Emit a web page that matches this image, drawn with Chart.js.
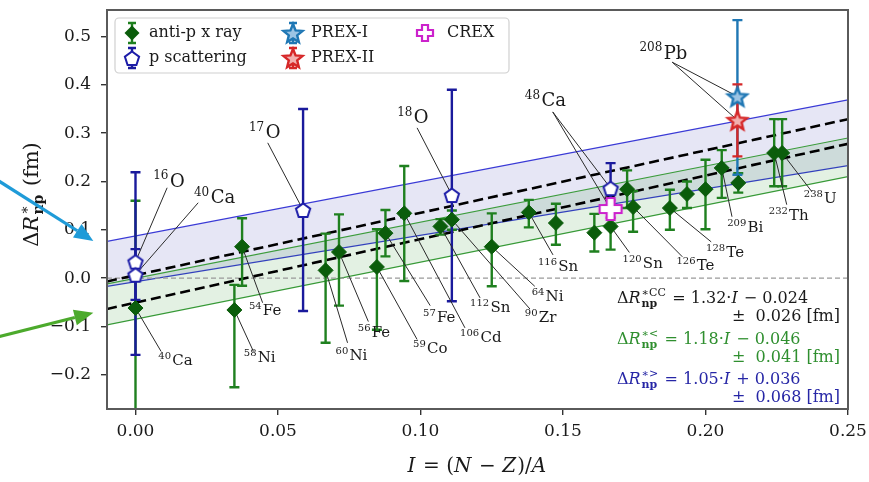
<!DOCTYPE html>
<html>
<head>
<meta charset="utf-8">
<script src="https://cdn.jsdelivr.net/npm/chart.js@4.4.1/dist/chart.umd.min.js"></script>
<style>
  html, body { margin: 0; padding: 0; background: #fff; }
  #wrap { width: 869px; height: 482px; position: relative; }
</style>
</head>
<body>
<div id="wrap"><canvas id="chart"></canvas></div>
<script>
const SERIF = "'DejaVu Serif', 'Liberation Serif', serif";

// anti-p x ray (I, value, lower end, upper end of error bar)
const apI  = [0, 0.0374, 0.0347, 0.0667, 0.0714, 0.0847, 0.0877, 0.0943, 0.107, 0.111, 0.125, 0.138, 0.1475, 0.161, 0.1667, 0.1725, 0.1746, 0.1875, 0.1935, 0.2, 0.2057, 0.2115, 0.2241, 0.2269];
const apY  = [-0.062, 0.065, -0.066, 0.016, 0.054, 0.023, 0.093, 0.134, 0.107, 0.121, 0.065, 0.136, 0.114, 0.094, 0.107, 0.184, 0.147, 0.145, 0.174, 0.184, 0.228, 0.197, 0.259, 0.259];
const apLo = [-0.30, -0.016, -0.226, -0.134, -0.057, -0.107, 0.045, -0.006, 0.09, 0.10, -0.017, 0.105, 0.069, 0.055, 0.059, 0.145, 0.096, 0.10, 0.145, 0.101, 0.166, 0.177, 0.19, 0.19];
const apHi = [0.16, 0.124, -0.014, 0.092, 0.132, 0.101, 0.141, 0.232, 0.122, 0.14, 0.134, 0.162, 0.154, 0.133, 0.138, 0.223, 0.18, 0.183, 0.2, 0.245, 0.265, 0.217, 0.329, 0.329];

// p scattering: 16O, 40Ca, 17O, 18O, 48Ca
const pI  = [0, 0, 0.0588, 0.111, 0.1667];
const pY  = [0.034, 0.007, 0.141, 0.172, 0.186];
const pLo = [-0.159, -0.045, -0.068, -0.048, 0.135];
const pHi = [0.219, 0.06, 0.35, 0.39, 0.238];

// parity violating experiments
const prexI   = [0.2112];
const prex1Y  = [0.376], prex1Lo = [0.214], prex1Hi = [0.534];
const prex2Y  = [0.327], prex2Lo = [0.252], prex2Hi = [0.401];
const crexI   = [0.1667];
const crexY   = [0.143], crexLo = [0.125], crexHi = [0.161];

// fitted bands, ends at I = -0.01 and I = 0.25
const bandX    = [-0.01, 0.25];
const blueUp   = [0.076, 0.369];
const blueLow  = [-0.017, 0.233];
const greenUp  = [-0.012, 0.29];
const greenLow = [-0.097, 0.21];
const ccUp     = [-0.007, 0.329];
const ccLow    = [-0.064, 0.278];
const zeroLine = [0, 0];

const xTicks = [0, 0.05, 0.10, 0.15, 0.20, 0.25];
const xTickLabels = ['0.00', '0.05', '0.10', '0.15', '0.20', '0.25'];
const yTicks = [-0.2, -0.1, 0, 0.1, 0.2, 0.3, 0.4, 0.5];
const yTickLabels = ['\u22120.2', '\u22120.1', '0.0', '0.1', '0.2', '0.3', '0.4', '0.5'];

// isotope labels: text anchor (data coords), leader start, targets
const isoLabels = [
  { sup: '16', el: 'O',  at: [0.0062, 0.203],  from: [0.0111, 0.187],  to: [['p', 0]], big: true },
  { sup: '40', el: 'Ca', at: [0.0205, 0.168],  from: [0.022, 0.156],   to: [['p', 1]], big: true },
  { sup: '40', el: 'Ca', at: [0.008, -0.169],  from: [0.009, -0.152],  to: [['ap', 0]] },
  { sup: '54', el: 'Fe', at: [0.0398, -0.066], from: [0.0446, -0.051], to: [['ap', 1]] },
  { sup: '58', el: 'Ni', at: [0.038, -0.163],  from: [0.0414, -0.152], to: [['ap', 2]] },
  { sup: '17', el: 'O',  at: [0.0398, 0.303],  from: [0.0464, 0.28],   to: [['p', 2]], big: true },
  { sup: '60', el: 'Ni', at: [0.0702, -0.158], from: [0.0744, -0.134], to: [['ap', 3]] },
  { sup: '56', el: 'Fe', at: [0.078, -0.111],  from: [0.0817, -0.09],  to: [['ap', 4]] },
  { sup: '59', el: 'Co', at: [0.0974, -0.144], from: [0.0988, -0.127], to: [['ap', 5]] },
  { sup: '57', el: 'Fe', at: [0.1009, -0.08],  from: [0.1034, -0.057], to: [['ap', 6]] },
  { sup: '106', el: 'Cd', at: [0.1139, -0.121], from: [0.1156, -0.103], to: [['ap', 7]] },
  { sup: '112', el: 'Sn', at: [0.1174, -0.06], from: [0.1209, -0.041], to: [['ap', 8]] },
  { sup: '90', el: 'Zr', at: [0.1366, -0.079], from: [0.1384, -0.064], to: [['ap', 9]] },
  { sup: '64', el: 'Ni', at: [0.139, -0.037],  from: [0.1401, -0.017], to: [['ap', 10]] },
  { sup: '116', el: 'Sn', at: [0.1412, 0.025], from: [0.1465, 0.048],  to: [['ap', 11]] },
  { sup: '120', el: 'Sn', at: [0.1709, 0.032], from: [0.1733, 0.053],  to: [['ap', 14]] },
  { sup: '126', el: 'Te', at: [0.1898, 0.0275], from: [0.1919, 0.044], to: [['ap', 16]] },
  { sup: '128', el: 'Te', at: [0.2002, 0.054], from: [0.202, 0.075],   to: [['ap', 17]] },
  { sup: '209', el: 'Bi', at: [0.2076, 0.106], from: [0.2093, 0.127],  to: [['ap', 20]] },
  { sup: '232', el: 'Th', at: [0.2222, 0.131], from: [0.2285, 0.152],  to: [['ap', 22]] },
  { sup: '238', el: 'U',  at: [0.2345, 0.166], from: [0.2373, 0.179],  to: [['ap', 23]] },
  { sup: '208', el: 'Pb', at: [0.1768, 0.468], from: [0.1883, 0.447],  to: [['prex1', 0], ['prex2', 0]], big: true },
  { sup: '48', el: 'Ca', at: [0.1366, 0.369],  from: [0.1464, 0.344],  to: [['p', 4], ['crex', 0]], big: true },
  { sup: '18', el: 'O',  at: [0.0918, 0.334],  from: [0.0988, 0.311],  to: [['p', 3]], big: true },
];

const COL = {
  apMark: '#0b5d0b', apBar: '#1f801f',
  pEdge: '#1c1ca8', pBar: '#1a1a9c',
  prex1: '#1f77b4', prex2: '#d62728', crex: '#cc22cc',
  blueLine: '#3a3ad6', greenLine: '#3c9c3c',
  blueFill: 'rgba(60, 60, 175, 0.13)', greenFill: 'rgba(0, 128, 0, 0.11)',
};

const pts = (xs, ys) => xs.map((x, i) => ({ x, y: ys[i] }));

// marker images
function makeMarker(size, draw) {
  const c = document.createElement('canvas');
  c.width = size; c.height = size;
  draw(c.getContext('2d'), size / 2);
  return c;
}
function starPath(ctx, c, ro, ri) {
  ctx.beginPath();
  for (let k = 0; k < 10; k++) {
    const r = k % 2 ? ri : ro;
    const a = -Math.PI / 2 + k * Math.PI / 5;
    ctx.lineTo(c + r * Math.cos(a), c + 1 + r * Math.sin(a));
  }
  ctx.closePath();
}
function crossPath(ctx, c, L, W) {
  ctx.beginPath();
  ctx.moveTo(c - W, c - L); ctx.lineTo(c + W, c - L); ctx.lineTo(c + W, c - W);
  ctx.lineTo(c + L, c - W); ctx.lineTo(c + L, c + W); ctx.lineTo(c + W, c + W);
  ctx.lineTo(c + W, c + L); ctx.lineTo(c - W, c + L); ctx.lineTo(c - W, c + W);
  ctx.lineTo(c - L, c + W); ctx.lineTo(c - L, c - W); ctx.lineTo(c - W, c - W);
  ctx.closePath();
}
const pentagonImg = makeMarker(20, (ctx, c) => {
  ctx.beginPath();
  for (let k = 0; k < 5; k++) {
    const a = -Math.PI / 2 + k * 2 * Math.PI / 5;
    ctx.lineTo(c + 7.5 * Math.cos(a), c + 1 + 7.5 * Math.sin(a));
  }
  ctx.closePath();
  ctx.fillStyle = '#fff'; ctx.fill();
  ctx.lineWidth = 2; ctx.strokeStyle = COL.pEdge; ctx.stroke();
});
const starImg = (color, tint) => makeMarker(26, (ctx, c) => {
  starPath(ctx, c, 10, 4.4);
  ctx.fillStyle = tint; ctx.fill();
  ctx.lineWidth = 2.4; ctx.lineJoin = 'miter'; ctx.strokeStyle = color; ctx.stroke();
});
const prex1Img = starImg(COL.prex1, '#9cc4e4');
const prex2Img = starImg(COL.prex2, '#f2b0b0');
const crossImg = (L, W) => makeMarker(2 * L + 6, (ctx, c) => {
  crossPath(ctx, c, L, W);
  ctx.fillStyle = '#fff'; ctx.fill();
  ctx.lineWidth = 2.2; ctx.strokeStyle = COL.crex; ctx.stroke();
});
const crexImg = crossImg(11, 4);
const crexLegendImg = crossImg(8, 3);

// rich text: strings, {t, i, b} runs and {sup, sub} scripts
function fnt(size, italic, bold) {
  return `${italic ? 'italic ' : ''}${bold ? 'bold ' : ''}${size}px ${SERIF}`;
}
function layoutRich(ctx, parts, size) {
  let w = 0;
  const runs = [];
  parts.forEach(p => {
    const o = typeof p === 'string' ? { t: p } : p;
    if (o.t !== undefined) {
      ctx.font = fnt(size, o.i, o.b);
      runs.push({ text: o.t, x: w, dy: 0, font: ctx.font });
      w += ctx.measureText(o.t).width + (o.i ? size * 0.06 : 0);
    } else {
      const ss = Math.round(size * 0.66);
      let mw = 0;
      if (o.sup) {
        ctx.font = fnt(ss);
        runs.push({ text: o.sup, x: w, dy: -size * 0.4, font: ctx.font });
        mw = Math.max(mw, ctx.measureText(o.sup).width);
      }
      if (o.sub) {
        ctx.font = fnt(ss, false, o.sb);
        runs.push({ text: o.sub, x: w, dy: size * 0.24, font: ctx.font });
        mw = Math.max(mw, ctx.measureText(o.sub).width);
      }
      w += mw + size * 0.08;
    }
  });
  return { w, runs };
}
function drawRich(ctx, parts, x, yMid, size, color, align) {
  const lay = layoutRich(ctx, parts, size);
  let x0 = x;
  if (align === 'center') x0 = x - lay.w / 2;
  if (align === 'right') x0 = x - lay.w;
  ctx.fillStyle = color;
  ctx.textBaseline = 'alphabetic';
  ctx.textAlign = 'left';
  const base = yMid + size * 0.36;
  lay.runs.forEach(r => {
    ctx.font = r.font;
    ctx.fillText(r.text, x0 + r.x, base + r.dy);
  });
}

function errorGroups() {
  return [
    { xs: apI, lo: apLo, hi: apHi, color: COL.apBar },
    { xs: pI, lo: pLo, hi: pHi, color: COL.pBar },
    { xs: prexI, lo: prex1Lo, hi: prex1Hi, color: COL.prex1 },
    { xs: prexI, lo: prex2Lo, hi: prex2Hi, color: COL.prex2 },
    { xs: crexI, lo: crexLo, hi: crexHi, color: COL.crex },
  ];
}

function pointOf(ref) {
  const [set, i] = ref;
  if (set === 'ap') return [apI[i], apY[i]];
  if (set === 'p') return [pI[i], pY[i]];
  if (set === 'prex1') return [prexI[i], prex1Y[i]];
  if (set === 'prex2') return [prexI[i], prex2Y[i]];
  return [crexI[i], crexY[i]];
}

function arrow(ctx, x1, y1, x2, y2, color) {
  const a = Math.atan2(y2 - y1, x2 - x1);
  const hl = 19, hw = 8;
  const bx = x2 - hl * Math.cos(a), by = y2 - hl * Math.sin(a);
  ctx.strokeStyle = color; ctx.fillStyle = color; ctx.lineWidth = 3.2;
  ctx.beginPath(); ctx.moveTo(x1, y1); ctx.lineTo(bx, by); ctx.stroke();
  ctx.beginPath();
  ctx.moveTo(x2, y2);
  ctx.lineTo(bx + hw * Math.sin(a), by - hw * Math.cos(a));
  ctx.lineTo(bx - hw * Math.sin(a), by + hw * Math.cos(a));
  ctx.closePath(); ctx.fill();
}

const overlay = {
  id: 'overlay',
  beforeDatasetDraw(chart, args) {
    if (chart.data.datasets[args.index].label !== 'anti-p x ray') return;
    const { ctx, chartArea: a, scales: { x, y } } = chart;
    ctx.save();
    ctx.beginPath(); ctx.rect(a.left, a.top, a.width, a.height); ctx.clip();
    // error bars, all below the markers
    errorGroups().forEach(g => {
      ctx.strokeStyle = g.color; ctx.lineWidth = 2.4;
      g.xs.forEach((v, i) => {
        const px = x.getPixelForValue(v);
        const y1 = y.getPixelForValue(g.lo[i]), y2 = y.getPixelForValue(g.hi[i]);
        ctx.beginPath();
        ctx.moveTo(px, y1); ctx.lineTo(px, y2);
        ctx.moveTo(px - 5, y1); ctx.lineTo(px + 5, y1);
        ctx.moveTo(px - 5, y2); ctx.lineTo(px + 5, y2);
        ctx.stroke();
      });
    });
    // leader lines
    ctx.strokeStyle = '#2a2a2a'; ctx.lineWidth = 1;
    isoLabels.forEach(l => {
      l.to.forEach(ref => {
        const [tx, ty] = pointOf(ref);
        ctx.beginPath();
        ctx.moveTo(x.getPixelForValue(l.from[0]), y.getPixelForValue(l.from[1]));
        ctx.lineTo(x.getPixelForValue(tx), y.getPixelForValue(ty));
        ctx.stroke();
      });
    });
    ctx.restore();
  },
  afterDatasetsDraw(chart) {
    const { ctx, chartArea: a, scales: { x, y } } = chart;
    ctx.save();
    isoLabels.forEach(l => {
      const size = l.big ? 18 : 15;
      drawRich(ctx, [{ sup: l.sup }, l.el], x.getPixelForValue(l.at[0]), y.getPixelForValue(l.at[1]), size, '#1a1a1a', 'left');
    });

    // fit formulas
    const R = { t: 'R', i: true };
    const I = { t: 'I', i: true };
    const fx = a.right - 231, rx = a.right - 8;
    drawRich(ctx, ['\u0394', R, { sup: '\u2217CC', sub: 'np', sb: true }, ' = 1.32\u00b7', I, ' \u2212 0.024'], fx, a.bottom - 112, 16, '#1a1a1a', 'left');
    drawRich(ctx, ['\u00b1  0.026 [fm]'], rx, a.bottom - 94, 16, '#1a1a1a', 'right');
    drawRich(ctx, ['\u0394', R, { sup: '\u2217<', sub: 'np', sb: true }, ' = 1.18\u00b7', I, ' \u2212 0.046'], fx, a.bottom - 71, 16, '#2f8f2f', 'left');
    drawRich(ctx, ['\u00b1  0.041 [fm]'], rx, a.bottom - 53, 16, '#2f8f2f', 'right');
    drawRich(ctx, ['\u0394', R, { sup: '\u2217>', sub: 'np', sb: true }, ' = 1.05\u00b7', I, ' + 0.036'], fx, a.bottom - 31, 16, '#2626a6', 'left');
    drawRich(ctx, ['\u00b1  0.068 [fm]'], rx, a.bottom - 13, 16, '#2626a6', 'right');
    ctx.restore();
  },
  afterDraw(chart) {
    const { ctx, chartArea: a, scales: { x, y } } = chart;
    ctx.save();
    // frame
    ctx.strokeStyle = '#5a5a5a'; ctx.lineWidth = 2;
    ctx.strokeRect(a.left, a.top, a.width, a.height);

    // legend
    const lx = a.left + 8, ly = a.top + 8, lw = 394, lh = 55;
    ctx.fillStyle = 'rgba(255,255,255,0.9)';
    ctx.strokeStyle = '#d0d0d0'; ctx.lineWidth = 1.2;
    ctx.beginPath(); ctx.roundRect(lx, ly, lw, lh, 4); ctx.fill(); ctx.stroke();
    const row1 = ly + 15, row2 = ly + 40;
    const bar = (cx, cy, color) => {
      ctx.strokeStyle = color; ctx.lineWidth = 2.4;
      ctx.beginPath();
      ctx.moveTo(cx, cy - 10); ctx.lineTo(cx, cy + 10);
      ctx.moveTo(cx - 4, cy - 10); ctx.lineTo(cx + 4, cy - 10);
      ctx.moveTo(cx - 4, cy + 10); ctx.lineTo(cx + 4, cy + 10);
      ctx.stroke();
    };
    const img = (im, cx, cy) => ctx.drawImage(im, cx - im.width / 2, cy - im.height / 2);
    const c1 = lx + 17, c2 = lx + 178, c3 = lx + 310;
    bar(c1, row1, COL.apBar);
    ctx.fillStyle = COL.apMark;
    ctx.beginPath(); ctx.moveTo(c1, row1 - 7.5); ctx.lineTo(c1 + 7.5, row1); ctx.lineTo(c1, row1 + 7.5); ctx.lineTo(c1 - 7.5, row1); ctx.closePath(); ctx.fill();
    bar(c1, row2, COL.pBar); img(pentagonImg, c1, row2);
    bar(c2, row1, COL.prex1); img(prex1Img, c2, row1);
    bar(c2, row2, COL.prex2); img(prex2Img, c2, row2);
    img(crexLegendImg, c3, row1);
    ctx.font = fnt(16); ctx.fillStyle = '#1a1a1a'; ctx.textBaseline = 'middle'; ctx.textAlign = 'left';
    ctx.fillText('anti-p x ray', c1 + 17, row1);
    ctx.fillText('p scattering', c1 + 17, row2);
    ctx.fillText('PREX-I', c2 + 18, row1);
    ctx.fillText('PREX-II', c2 + 18, row2);
    ctx.fillText('CREX', c3 + 22, row1);

    // axis titles
    drawRich(ctx, [{ t: 'I', i: true }, ' = (', { t: 'N', i: true }, ' \u2212 ', { t: 'Z', i: true }, ')/', { t: 'A', i: true }],
      (a.left + a.right) / 2, a.bottom + 56, 20, '#1a1a1a', 'center');
    ctx.save();
    ctx.translate(30, (a.top + a.bottom) / 2 - 15);
    ctx.rotate(-Math.PI / 2);
    drawRich(ctx, ['\u0394', { t: 'R', i: true }, { sup: '\u2217', sub: 'np', sb: true }, ' (fm)'], 0, 0, 21, '#1a1a1a', 'center');
    ctx.restore();

    // pointer arrows at the band ends
    arrow(ctx, x.getPixelForValue(-0.0485), y.getPixelForValue(0.203), x.getPixelForValue(-0.0148), y.getPixelForValue(0.077), '#1f9bd8');
    arrow(ctx, x.getPixelForValue(-0.0485), y.getPixelForValue(-0.122), x.getPixelForValue(-0.0148), y.getPixelForValue(-0.072), '#4caa2c');
    ctx.restore();
  }
};

const lineSet = (label, ys, color, extra) => Object.assign({
  type: 'line', label, data: pts(bandX, ys), borderColor: color, borderWidth: 1.2,
  pointRadius: 0, fill: false, tension: 0,
}, extra);

const noPad = s => { s.paddingTop = 0; s.paddingBottom = 0; s.paddingLeft = 0; s.paddingRight = 0; };

new Chart(document.getElementById('chart'), {
  type: 'scatter',
  data: {
    datasets: [
      { label: 'anti-p x ray', data: pts(apI, apY), pointStyle: 'rectRot', pointRadius: 7.5,
        backgroundColor: COL.apMark, borderColor: COL.apMark, borderWidth: 1, order: 5 },
      { label: 'p scattering', data: pts(pI, pY), pointStyle: pentagonImg, order: 4 },
      { label: 'PREX-I', data: pts(prexI, prex1Y), pointStyle: prex1Img, order: 3 },
      { label: 'PREX-II', data: pts(prexI, prex2Y), pointStyle: prex2Img, order: 2 },
      { label: 'CREX', data: pts(crexI, crexY), pointStyle: crexImg, order: 1 },
      lineSet('cc upper', ccUp, '#000', { borderWidth: 2.6, borderDash: [10, 5], order: 7 }),
      lineSet('cc lower', ccLow, '#000', { borderWidth: 2.6, borderDash: [10, 5], order: 7 }),
      lineSet('zero', zeroLine, '#9a9a9a', { borderWidth: 1.2, borderDash: [5, 3], order: 8 }),
      lineSet('blue upper', blueUp, COL.blueLine, { fill: { target: 9, above: COL.blueFill, below: COL.blueFill }, order: 12 }),
      lineSet('blue lower', blueLow, COL.blueLine, { order: 12 }),
      lineSet('green upper', greenUp, COL.greenLine, { fill: { target: 11, above: COL.greenFill, below: COL.greenFill }, order: 11 }),
      lineSet('green lower', greenLow, COL.greenLine, { order: 11 }),
    ]
  },
  options: {
    responsive: true,
    maintainAspectRatio: false,
    animation: false,
    events: [],
    layout: { padding: { left: 0, right: 21, top: 10, bottom: 0 } },
    plugins: { legend: { display: false }, tooltip: { enabled: false } },
    scales: {
      x: {
        type: 'linear', min: -0.01, max: 0.25,
        afterBuildTicks: s => { s.ticks = xTicks.map(v => ({ value: v })); },
        afterFit: s => { s.height = 73; noPad(s); },
        ticks: { callback: (v, i) => xTickLabels[i], font: { family: SERIF, size: 17 }, color: '#1a1a1a', padding: 6, maxRotation: 0 },
        grid: { drawOnChartArea: false, drawTicks: true, tickLength: 6, color: '#333', lineWidth: 1.4 },
        border: { display: true, color: '#5a5a5a', width: 2 },
      },
      y: {
        type: 'linear', min: -0.271, max: 0.555,
        afterBuildTicks: s => { s.ticks = yTicks.map(v => ({ value: v })); },
        afterFit: s => { s.width = 107; noPad(s); },
        ticks: { callback: (v, i) => yTickLabels[i], font: { family: SERIF, size: 17 }, color: '#1a1a1a', padding: 10 },
        grid: { drawOnChartArea: false, drawTicks: true, tickLength: 6, color: '#333', lineWidth: 1.4 },
        border: { display: true, color: '#5a5a5a', width: 2 },
      }
    }
  },
  plugins: [overlay]
});
</script>
</body>
</html>
